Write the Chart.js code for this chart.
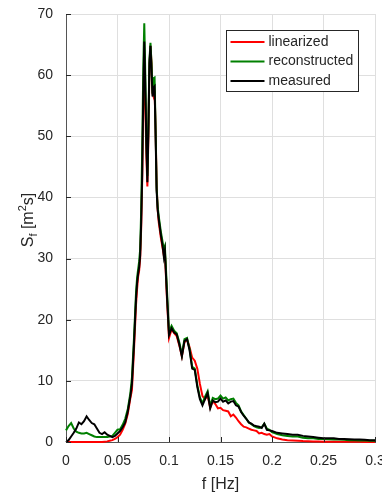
<!DOCTYPE html>
<html>
<head>
<meta charset="utf-8">
<script src="https://cdn.jsdelivr.net/npm/chart.js@4.4.0/dist/chart.umd.min.js"></script>
<style>
  html, body { margin: 0; padding: 0; background: #fff; overflow: hidden; }
  #wrap { width: 382px; height: 492px; overflow: hidden; }
</style>
</head>
<body>
<div id="wrap"><canvas id="spectrum" width="392" height="492"></canvas></div>
<script>
// Frequency axis (Hz), denser around the spectral peak
const freqHz = [
  0, 0.0025, 0.005, 0.0075, 0.01, 0.0125, 0.015, 0.0175, 0.02, 0.0225, 0.025, 0.0275, 0.03,
  0.0325, 0.035, 0.0375, 0.04, 0.0425, 0.045, 0.0475, 0.05, 0.0525, 0.055, 0.0575, 0.06, 0.0625,
  0.064, 0.066, 0.068, 0.069, 0.07, 0.071, 0.072, 0.073, 0.074, 0.075, 0.076, 0.077, 0.078, 0.079,
  0.08, 0.081, 0.082, 0.083, 0.084, 0.085, 0.086, 0.087, 0.088, 0.089, 0.09, 0.092, 0.094, 0.095,
  0.096, 0.098,
  0.1, 0.1025, 0.105, 0.1075, 0.11, 0.1125, 0.115, 0.1175, 0.12, 0.1225, 0.125, 0.1275, 0.13,
  0.1325, 0.135, 0.1375, 0.14, 0.1425, 0.145, 0.1475, 0.15, 0.1525, 0.155, 0.1575, 0.16, 0.1625,
  0.165, 0.1675, 0.17, 0.1725, 0.175, 0.1775, 0.18, 0.1825, 0.185, 0.1875, 0.19, 0.1925, 0.195,
  0.1975, 0.2,
  0.205, 0.21, 0.215, 0.22, 0.225, 0.23, 0.235, 0.24, 0.245, 0.25, 0.255, 0.26, 0.265, 0.27,
  0.275, 0.28, 0.285, 0.29, 0.295, 0.3,
];

// Spectral density S_f [m^2 s]
const linearized = [
  0, 0, 0, 0, 0, 0, 0, 0, 0, 0, 0, 0, 0, 0, 0, 0.05, 0.1, 0.2, 0.3, 0.5, 0.8, 1.2, 2.0, 3.0, 4.6, 7.2,
  8.5, 15, 22.5, 25, 27, 28, 30, 35, 43, 55, 63, 55, 47, 41.8, 50, 61, 64.8, 62, 57, 56.5,
  57.5, 51, 42, 38, 36, 33.5, 31.5, 30.5, 31, 23.5,
  17.0, 18.4, 17.8, 17.3, 15.8, 14.0, 16.3, 16.8, 15.5, 13.8, 13.3, 12.0, 9.5, 7.5, 7.0, 7.6,
  5.6, 6.7, 6.2, 5.5, 5.6, 5.2, 5.1, 5.0, 4.2, 4.5, 4.0, 3.4, 2.9, 2.5, 2.4, 2.2, 2.0, 1.9,
  1.8, 1.4, 1.5, 1.3, 1.2, 1.3, 0.9,
  0.6, 0.4, 0.3, 0.25, 0.2, 0.15, 0.12, 0.1, 0.08, 0.06, 0.05, 0.05, 0.04, 0.04, 0.03, 0.03,
  0.03, 0.02, 0.02, 0.02,
];

const reconstructed = [
  1.9, 2.6, 3.1, 2.2, 1.7, 1.5, 1.4, 1.4, 1.5, 1.3, 1.1, 0.9, 0.8, 0.8, 0.8, 0.8, 0.8, 0.9, 1.0,
  1.5, 2.0, 2.1, 2.8, 3.8, 5.4, 8.0,
  10.5, 17, 24.5, 26.8, 28.2, 29.5, 31.5, 38, 48, 61, 68.5, 60, 50, 43.5, 52, 62.5, 65.3, 62, 57,
  59.5, 59.6, 51, 41.5, 38.5, 37, 34.5, 32.5, 31.5, 32, 25,
  18.0, 19.0, 18.2, 17.8, 16.3, 14.3, 16.8, 17.0, 15.2, 12.3, 12.0, 9.3, 7.3, 6.3, 7.4, 8.3,
  5.9, 7.2, 7.0, 7.1, 7.6, 7.1, 7.3, 6.8, 7.0, 7.1, 6.4, 6.0, 5.0, 4.4, 3.8, 3.2, 2.9, 2.6,
  2.4, 2.3, 2.4, 3.0, 2.2, 2.0, 1.6,
  1.3, 1.1, 1.0, 0.9, 0.9, 0.7, 0.6, 0.6, 0.5, 0.5, 0.45, 0.4, 0.4, 0.35, 0.3, 0.3, 0.25, 0.25,
  0.2, 0.2,
];

const measured = [
  0, 0.3, 0.9, 1.5, 2.2, 3.2, 2.9, 3.4, 4.2, 3.6, 3.1, 2.9, 2.2, 1.5, 1.3, 1.6, 1.2, 1.0, 0.8,
  1.0, 1.4, 1.8, 2.4, 3.2, 5.0, 7.5,
  9.5, 16, 23.5, 26, 27.5, 28.5, 30.5, 36, 44, 57, 65.5, 58, 49, 42.5, 51, 62, 64.8, 61, 56.5,
  58, 58.2, 50, 41, 38, 36.5, 34, 31.8, 30.3, 31.3, 24,
  17.5, 18.6, 17.9, 17.6, 16.0, 14.0, 16.5, 16.8, 15.0, 12.0, 11.8, 9.0, 7.0, 6.0, 7.0, 8.0,
  5.5, 6.8, 6.5, 6.6, 7.1, 6.6, 6.8, 6.3, 6.6, 6.7, 6.0, 5.8, 4.9, 4.3, 3.8, 3.2, 3.0, 2.7,
  2.6, 2.5, 2.3, 3.0, 2.0, 1.9, 1.8,
  1.5, 1.4, 1.3, 1.2, 1.2, 1.0, 0.9, 0.8, 0.7, 0.6, 0.6, 0.6, 0.5, 0.5, 0.45, 0.4, 0.4, 0.35,
  0.3, 0.3,
];

const xTicks = [0, 0.05, 0.1, 0.15, 0.2, 0.25, 0.3];
const yTicks = [0, 10, 20, 30, 40, 50, 60, 70];

const AXIS_COLOR = "#262626";
const FONT = "'Liberation Sans', Arial, Helvetica, sans-serif";
Chart.defaults.font.family = FONT;

function toPoints(values) {
  return freqHz.map((f, i) => ({ x: f, y: values[i] }));
}

// Legend box drawn inside the plot area, top right
const legendBox = {
  id: "legendBox",
  afterDraw(chart) {
    const { ctx, chartArea } = chart;
    const left = Math.round(chartArea.right - 149) + 0.5;
    const top = Math.round(chartArea.top + 16) + 0.5;
    const w = 132, h = 61;
    ctx.save();
    ctx.fillStyle = "#fff";
    ctx.fillRect(left, top, w, h);
    ctx.strokeStyle = AXIS_COLOR;
    ctx.lineWidth = 1;
    ctx.strokeRect(left, top, w, h);
    ctx.font = "14px " + FONT;
    ctx.textBaseline = "middle";
    // keep legend in series order even though drawing order differs
    const ordered = [...chart.data.datasets].sort((a, b) => b.order - a.order);
    ordered.forEach((ds, i) => {
      const y = top + 11.5 + i * 19.5;
      ctx.strokeStyle = ds.borderColor;
      ctx.lineWidth = 2;
      ctx.beginPath();
      ctx.moveTo(left + 4, y);
      ctx.lineTo(left + 38, y);
      ctx.stroke();
      ctx.fillStyle = AXIS_COLOR;
      ctx.fillText(ds.label, left + 42, y);
    });
    ctx.restore();
  },
};

// Y axis title with subscript / superscript
const yTitle = {
  id: "yTitle",
  afterDraw(chart) {
    const { ctx, chartArea } = chart;
    const big = "16px " + FONT;
    const small = "11px " + FONT;
    const parts = [
      ["S", big, 0],
      ["f", small, 4],
      [" [m", big, 0],
      ["2", small, -7],
      ["s]", big, 0],
    ];
    ctx.save();
    let total = 0;
    parts.forEach((p) => {
      ctx.font = p[1];
      total += ctx.measureText(p[0]).width;
    });
    ctx.translate(33, (chartArea.top + chartArea.bottom) / 2 - 8);
    ctx.rotate(-Math.PI / 2);
    ctx.fillStyle = AXIS_COLOR;
    ctx.textBaseline = "alphabetic";
    let x = -total / 2;
    parts.forEach((p) => {
      ctx.font = p[1];
      ctx.fillText(p[0], x, p[2]);
      x += ctx.measureText(p[0]).width;
    });
    ctx.restore();
  },
};

// Inward tick marks like the original plot
const innerTicks = {
  id: "innerTicks",
  afterDatasetsDraw(chart) {
    const { ctx, chartArea, scales } = chart;
    ctx.save();
    ctx.strokeStyle = AXIS_COLOR;
    ctx.lineWidth = 1;
    ctx.beginPath();
    yTicks.forEach((v) => {
      const y = Math.round(scales.y.getPixelForValue(v)) + 0.5;
      ctx.moveTo(chartArea.left, y);
      ctx.lineTo(chartArea.left + 5, y);
    });
    xTicks.forEach((v) => {
      const x = Math.round(scales.x.getPixelForValue(v)) + 0.5;
      ctx.moveTo(x, chartArea.bottom);
      ctx.lineTo(x, chartArea.bottom - 5);
    });
    ctx.stroke();
    ctx.restore();
  },
};

new Chart(document.getElementById("spectrum"), {
  type: "line",
  data: {
    datasets: [
      { label: "linearized", data: toPoints(linearized), borderColor: "#ff0000", order: 3 },
      { label: "reconstructed", data: toPoints(reconstructed), borderColor: "#008000", order: 2 },
      { label: "measured", data: toPoints(measured), borderColor: "#000000", order: 1 },
    ],
  },
  options: {
    responsive: false,
    animation: false,
    devicePixelRatio: 1,
    layout: { padding: { left: 0, right: 17, top: 14, bottom: 0 } },
    elements: {
      line: { borderWidth: 2, tension: 0, fill: false },
      point: { radius: 0, hoverRadius: 0 },
    },
    datasets: { line: { clip: 4 } },
    plugins: {
      legend: { display: false },
      tooltip: { enabled: false },
    },
    scales: {
      x: {
        type: "linear",
        min: 0,
        max: 0.3,
        afterBuildTicks: (s) => { s.ticks = xTicks.map((v) => ({ value: v })); },
        afterFit: (s) => { s.height = 50; },
        grid: { color: "#dfdfdf", drawTicks: true, tickLength: 11, tickColor: "rgba(0,0,0,0)" },
        border: { color: "#555" },
        ticks: {
          color: AXIS_COLOR,
          font: { size: 14 },
          padding: 0,
          maxRotation: 0,
          autoSkip: false,
          callback: (v) => String(+Number(v).toFixed(2)),
        },
        title: {
          display: true,
          text: "f [Hz]",
          color: AXIS_COLOR,
          font: { size: 16 },
          padding: { top: 0, bottom: -2 },
        },
      },
      y: {
        type: "linear",
        min: 0,
        max: 70,
        afterBuildTicks: (s) => { s.ticks = yTicks.map((v) => ({ value: v })); },
        afterFit: (s) => { s.width = 66; },
        grid: { color: "#dfdfdf", drawTicks: true, tickLength: 13, tickColor: "rgba(0,0,0,0)" },
        border: { color: "#555" },
        ticks: { color: AXIS_COLOR, font: { size: 14 }, padding: 0 },
      },
    },
  },
  plugins: [innerTicks, yTitle, legendBox],
});
</script>
</body>
</html>
